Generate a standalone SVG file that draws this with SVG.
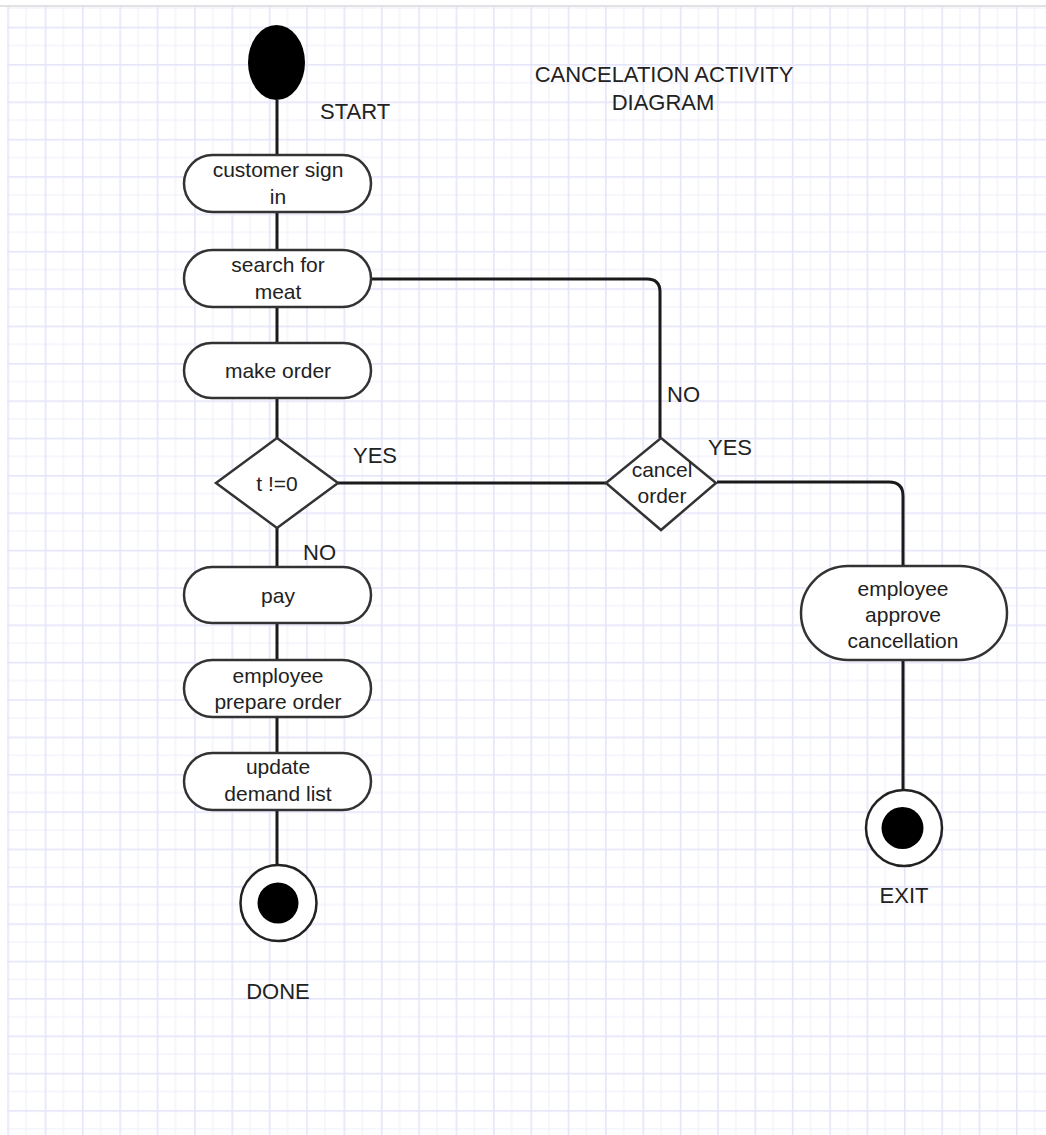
<svg xmlns="http://www.w3.org/2000/svg" width="1046" height="1135" viewBox="0 0 1046 1135">
  <style>
    text { font-family: "Liberation Sans", Arial, sans-serif; font-size: 21px; fill: #222; }
    .mid { text-anchor: middle; }
    .cap { font-size: 22px; }
    .act { fill: #fff; stroke: #333; stroke-width: 2.5; }
    .dec { fill: #fff; stroke: #333; stroke-width: 2.5; stroke-linejoin: miter; }
    .flow { fill: none; stroke: #1a1a1a; stroke-width: 3; }
    .final-ring { fill: #fff; stroke: #222; stroke-width: 2.5; }
  </style>
  <defs>
    <!-- drawing-canvas grid: major lines every cell, minor halfway -->
    <pattern id="grid" patternUnits="userSpaceOnUse" x="7.3" y="26.7" width="37.36" height="37.36">
      <rect x="0" y="0" width="37.36" height="37.36" fill="#fff"/>
      <rect x="18.1" y="0" width="1.2" height="37.36" fill="#f1f1fd"/>
      <rect x="0" y="18.1" width="37.36" height="1.2" fill="#f1f1fd"/>
      <rect x="0" y="0" width="1.6" height="37.36" fill="#e5e5fb"/>
      <rect x="0" y="0" width="37.36" height="1.6" fill="#e5e5fb"/>
    </pattern>
  </defs>

  <!-- canvas -->
  <rect x="0" y="0" width="1046" height="1135" fill="#fff"/>
  <rect x="7" y="7" width="1039" height="1128" fill="url(#grid)"/>
  <rect x="0" y="5" width="1046" height="2" fill="#e2e2e2"/>

  <!-- connectors -->
  <g id="connectors">
    <path class="flow" d="M277 100 V155"/>
    <path class="flow" d="M277 212 V249"/>
    <path class="flow" d="M277 307 V343"/>
    <path class="flow" d="M277 398 V438"/>
    <path class="flow" d="M277 528 V567"/>
    <path class="flow" d="M277 623 V660"/>
    <path class="flow" d="M277 717 V753"/>
    <path class="flow" d="M277 810 V865"/>
    <path class="flow" d="M372 279 H647 Q660 279 660 292 V438"/>
    <path class="flow" d="M338 483 H606"/>
    <path class="flow" d="M717 482 H889 Q903 482 903 496 V566"/>
    <path class="flow" d="M903 660 V790"/>
  </g>

  <!-- nodes -->
  <g id="start">
    <ellipse cx="276.5" cy="62.5" rx="28.5" ry="37.5" fill="#000"/>
    <text class="cap" x="320" y="119">START</text>
  </g>

  <g id="title">
    <text class="mid cap" x="664" y="82">CANCELATION ACTIVITY</text>
    <text class="mid cap" x="663" y="110">DIAGRAM</text>
  </g>

  <g id="customer-sign-in">
    <rect class="act" x="184" y="155" width="187" height="57" rx="28.5"/>
    <text class="mid" x="278" y="177">customer sign</text>
    <text class="mid" x="278" y="204">in</text>
  </g>

  <g id="search-for-meat">
    <rect class="act" x="184" y="250" width="187" height="57" rx="28.5"/>
    <text class="mid" x="278" y="272">search for</text>
    <text class="mid" x="278" y="299">meat</text>
  </g>

  <g id="make-order">
    <rect class="act" x="184" y="343" width="187" height="55" rx="27.5"/>
    <text class="mid" x="278" y="378">make order</text>
  </g>

  <g id="decision-t">
    <polygon class="dec" points="277,438 338,483 277,528 216,483"/>
    <text class="mid" x="277" y="491">t !=0</text>
    <text class="cap" x="353" y="463">YES</text>
    <text class="cap" x="303" y="560">NO</text>
  </g>

  <g id="pay">
    <rect class="act" x="184" y="567" width="187" height="56" rx="28"/>
    <text class="mid" x="278" y="603">pay</text>
  </g>

  <g id="employee-prepare-order">
    <rect class="act" x="184" y="660" width="187" height="57" rx="28.5"/>
    <text class="mid" x="278" y="683">employee</text>
    <text class="mid" x="278" y="709">prepare order</text>
  </g>

  <g id="update-demand-list">
    <rect class="act" x="184" y="753" width="187" height="57" rx="28.5"/>
    <text class="mid" x="278" y="774">update</text>
    <text class="mid" x="278" y="801">demand list</text>
  </g>

  <g id="done">
    <circle class="final-ring" cx="278.5" cy="903" r="38"/>
    <circle cx="278" cy="903" r="20.5" fill="#000"/>
    <text class="mid cap" x="278" y="999">DONE</text>
  </g>

  <g id="cancel-order">
    <polygon class="dec" points="661,438 716,483 661,530 606,483"/>
    <text class="mid" x="662" y="477">cancel</text>
    <text class="mid" x="662" y="503">order</text>
    <text class="cap" x="667" y="402">NO</text>
    <text class="cap" x="708" y="455">YES</text>
  </g>

  <g id="employee-approve-cancellation">
    <rect class="act" x="801" y="566" width="206" height="94" rx="47"/>
    <text class="mid" x="903" y="596">employee</text>
    <text class="mid" x="903" y="622">approve</text>
    <text class="mid" x="903" y="648">cancellation</text>
  </g>

  <g id="exit">
    <circle class="final-ring" cx="904" cy="828" r="38"/>
    <circle cx="902.5" cy="828" r="21" fill="#000"/>
    <text class="mid cap" x="904" y="903">EXIT</text>
  </g>
</svg>
